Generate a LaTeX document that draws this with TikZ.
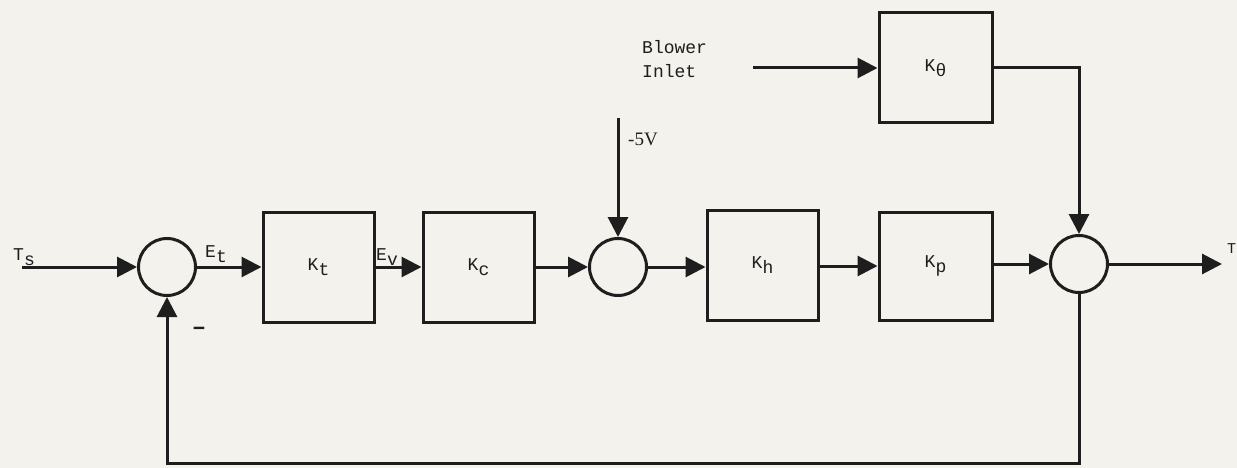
\documentclass[tikz,border=0pt]{standalone}
\usepackage{fontspec}
\setmainfont{Liberation Mono}
\newfontfamily\serifv{Liberation Serif}
\usetikzlibrary{arrows.meta}
\definecolor{paper}{RGB}{244,242,236}
\definecolor{ink}{RGB}{30,30,30}
\newcommand\lowsub[1]{\raisebox{-0.55ex}{#1}}
\tikzset{
  blk/.style={draw=ink, line width=3pt, minimum width=111pt, minimum height=110pt, inner sep=0pt, font=\fontsize{18}{20}\selectfont, text=ink},
  sumj/.style={circle, draw=ink, line width=3pt, minimum size=57pt, inner sep=0pt},
  sig/.style={draw=ink, line width=3pt, -{Triangle[length=20pt,width=20pt]}},
  lbl/.style={text=ink, inner sep=0pt, font=\fontsize{18}{24}\selectfont}
}
\begin{document}
\begin{tikzpicture}[x=1pt,y=-1pt]
\fill[paper] (0,0) rectangle (1237,468);
\useasboundingbox (0,0) rectangle (1237,468);

\node[sumj] (s1) at (167,267) {};
\node[blk] (kt) at (318.5,267) {K\lowsub{t}};
\node[blk] (kc) at (478.5,267) {K\lowsub{c}};
\node[sumj] (s2) at (618,267) {};
\node[blk] (kh) at (762.5,265) {K\lowsub{h}};
\node[blk, minimum width=113pt, minimum height=108pt] (kp) at (935.5,266) {K\lowsub{p}};
\node[sumj] (s3) at (1079,264) {};
\node[blk, minimum width=113pt] (kth) at (935.5,68) {K\lowsub{θ}};

\coordinate (tsin) at (22,267);
\coordinate (vin) at (618,118);
\coordinate (bin) at (753,68);
\coordinate (kthc) at (1079,68);
\coordinate (tout) at (1222,264);
\coordinate (fbr) at (1079,463);
\coordinate (fbl) at (167,463);

\node[lbl, anchor=base west] (tslbl) at (13,260) {T\lowsub{s}};
\node[lbl] (etlbl) at (216,254) {E\lowsub{t}};
\node[lbl] (evlbl) at (387,257) {E\lowsub{v}};
\node[lbl, anchor=west, font=\serifv\fontsize{19}{22}\selectfont] (v5) at (628,139) {-5V};
\node[lbl, anchor=north west, align=left] (blw) at (642,40) {Blower\\Inlet};
\node[lbl, anchor=base west, font=\fontsize{15}{18}\selectfont] (tlbl) at (1227,253) {T};
\node[lbl, font=\bfseries\fontsize{24}{24}\selectfont] (minus) at (199,331) {–};

\draw[sig] (tsin) -- (s1.west);
\draw[sig] (s1.east) -- (kt.west |- s1.east);
\draw[sig] (kt.east |- s1.east) -- (kc.west |- s1.east);
\draw[sig] (kc.east |- s2.west) -- (s2.west);
\draw[sig] (vin) -- (s2.north);
\draw[sig] (s2.east) -- (kh.west |- s2.east);
\draw[sig] (kh.east |- kp.west) -- (kp.west);
\draw[sig] (kp.east |- s3.west) -- (s3.west);
\draw[sig] (s3.east) -- (tout);
\draw[sig] (bin) -- (kth.west);
\draw[sig] (kth.east) -- (kthc) -- (s3.north);
\draw[sig] (s3.south) -- (fbr) -- (fbl) -- (s1.south);
\end{tikzpicture}
\end{document}
